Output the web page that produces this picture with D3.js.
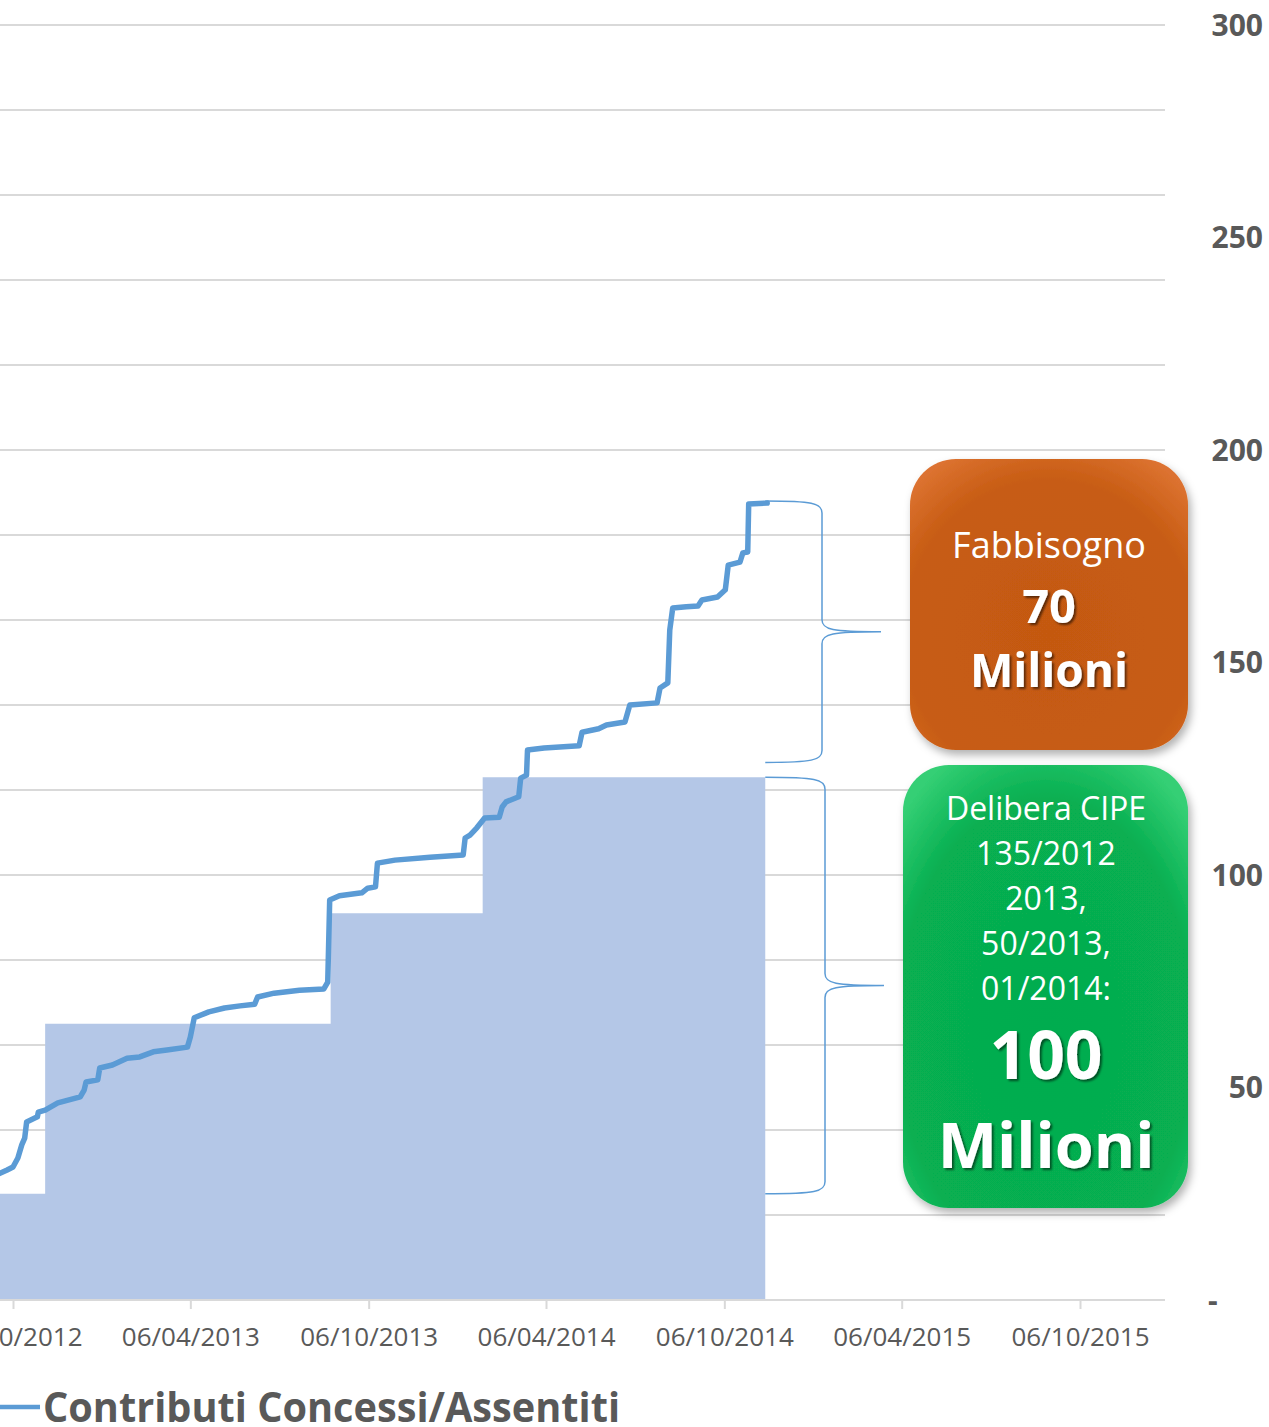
<!DOCTYPE html>
<html>
<head>
<meta charset="utf-8">
<script src="https://cdn.jsdelivr.net/npm/d3@7"></script>
<style>
  body { margin: 0; background: #fff; }
  svg { display: block; font-family: "Open Sans", sans-serif; }
</style>
</head>
<body>
<div id="chart"></div>
<script>
var svgWidth = 1269;
var svgHeight = 1427;

// cumulative line: Contributi Concessi/Assentiti (milioni)
var lineDates = ["2012-09-12","2012-09-30","2012-10-06","2012-10-11","2012-10-15","2012-10-18","2012-10-20",
  "2012-10-31","2012-11-01","2012-11-08","2012-11-21","2012-12-14","2012-12-18","2012-12-20","2013-01-01",
  "2013-01-03","2013-01-16","2013-01-31","2013-02-13","2013-02-27","2013-03-13","2013-04-03","2013-04-06",
  "2013-04-10","2013-04-25","2013-05-11","2013-05-27","2013-06-11","2013-06-14","2013-07-01","2013-07-27",
  "2013-08-21","2013-08-25","2013-08-27","2013-09-06","2013-09-29","2013-10-05","2013-10-13","2013-10-15",
  "2013-11-02","2013-12-08","2014-01-11","2014-01-13","2014-01-18","2014-01-25","2014-02-02","2014-02-17",
  "2014-02-20","2014-02-24","2014-03-09","2014-03-11","2014-03-17","2014-03-18","2014-04-04","2014-05-10",
  "2014-05-13","2014-05-30","2014-06-07","2014-06-26","2014-07-01","2014-07-29","2014-08-01","2014-08-09",
  "2014-08-11","2014-08-14","2014-08-28","2014-09-09","2014-09-13","2014-09-29","2014-10-07","2014-10-10",
  "2014-10-22","2014-10-25","2014-10-30","2014-10-31","2014-11-19"];
var lineValues = [28.7,30.6,31.3,33.4,36.5,38.1,41.9,
  43.1,44.2,44.7,46.4,47.8,49.4,51.3,51.8,
  54.6,55.3,56.9,57.2,58.4,58.8,59.5,61.9,
  66.4,67.8,68.7,69.2,69.6,71.3,72.2,72.9,
  73.2,74.8,94.1,95.1,95.8,96.9,97.2,102.8,
  103.5,104.2,104.7,108.7,109.4,111.1,113.4,113.6,
  116.0,117.2,118.4,122.8,123.5,129.4,129.9,130.4,
  133.6,134.4,135.3,136.0,140.0,140.5,144.0,145.2,
  157.6,162.8,163.1,163.3,164.7,165.4,167.1,172.9,
  173.6,175.8,176.0,187.3,187.5];

// stepped area: risorse assegnate (milioni)
var stepStarts = ["2012-08-01","2012-11-08","2013-08-28","2014-01-31","2014-11-17"];
var stepValues = [25, 65, 91, 123, 123];

var xTickDates = ["2012-10-06","2013-04-06","2013-10-06","2014-04-06","2014-10-06","2015-04-06","2015-10-06"];
var yTickValues = [0, 50, 100, 150, 200, 250, 300];
var gridValues = d3.range(0, 301, 20);

var parse = d3.timeParse("%Y-%m-%d");
var fmt = d3.timeFormat("%d/%m/%Y");

var svg = d3.select("#chart").append("svg")
    .attr("width", svgWidth)
    .attr("height", svgHeight);

var defs = svg.append("defs");
defs.append("clipPath").attr("id", "plotClip")
  .append("rect").attr("x", 0).attr("y", 0).attr("width", 1165).attr("height", 1300);

var shadow = defs.append("filter").attr("id", "shadow")
    .attr("x", "-20%").attr("y", "-20%").attr("width", "140%").attr("height", "140%");
shadow.append("feDropShadow").attr("dx", 3).attr("dy", 5).attr("stdDeviation", 4)
    .attr("flood-color", "#000").attr("flood-opacity", 0.3);

var txtShadow = defs.append("filter").attr("id", "txtShadow");
txtShadow.append("feDropShadow").attr("dx", 2).attr("dy", 2).attr("stdDeviation", 1.2)
    .attr("flood-color", "#000").attr("flood-opacity", 0.55);

var gOrange = defs.append("radialGradient").attr("id", "gOrange")
    .attr("cx", "50%").attr("cy", "60%").attr("r", "70%");
gOrange.append("stop").attr("offset", "0%").attr("stop-color", "#c45911");
gOrange.append("stop").attr("offset", "75%").attr("stop-color", "#c75c13");
gOrange.append("stop").attr("offset", "100%").attr("stop-color", "#dc7230");

var gGreen = defs.append("radialGradient").attr("id", "gGreen")
    .attr("cx", "50%").attr("cy", "60%").attr("r", "70%");
gGreen.append("stop").attr("offset", "0%").attr("stop-color", "#05ac4f");
gGreen.append("stop").attr("offset", "75%").attr("stop-color", "#07af51");
gGreen.append("stop").attr("offset", "100%").attr("stop-color", "#34cf74");

// scales
var xScale = d3.scaleTime()
    .domain([parse("2012-10-06"), parse("2015-10-06")])
    .range([13, 1080]);
var yScale = d3.scaleLinear()
    .domain([0, 300])
    .range([1300, 25]);

// gridlines
svg.append("g").selectAll("line")
  .data(gridValues)
  .enter()
  .append("line")
  .attr("x1", 0)
  .attr("x2", 1165)
  .attr("y1", d => yScale(d))
  .attr("y2", d => yScale(d))
  .attr("stroke", "#d9d9d9")
  .attr("stroke-width", 2);

// stepped area
var plot = svg.append("g").attr("clip-path", "url(#plotClip)");
var stepData = stepStarts.map((d, i) => ({ date: parse(d), value: stepValues[i] }));
var area = d3.area()
    .curve(d3.curveStepAfter)
    .x(d => xScale(d.date))
    .y0(yScale(0))
    .y1(d => yScale(d.value));
plot.append("path")
    .datum(stepData)
    .attr("d", area)
    .attr("fill", "#b4c7e7");

// x axis
var bottomAxis = d3.axisBottom(xScale)
    .tickValues(xTickDates.map(parse))
    .tickFormat(fmt)
    .tickSizeInner(9)
    .tickSizeOuter(0)
    .tickPadding(19);
var xAxis = svg.append("g")
    .attr("transform", "translate(0, 1300)")
    .call(bottomAxis);
xAxis.select(".domain").attr("d", "M0,0H1165").attr("stroke", "#d9d9d9").attr("stroke-width", 2);
xAxis.selectAll(".tick line").attr("stroke", "#d9d9d9").attr("stroke-width", 2);
xAxis.selectAll(".tick text")
    .attr("font-family", "Open Sans, sans-serif")
    .attr("font-size", "26px")
    .attr("fill", "#595959");

// y axis labels on the right
svg.append("g").selectAll("text")
  .data(yTickValues)
  .enter()
  .append("text")
  .attr("x", 1263)
  .attr("y", d => yScale(d))
  .attr("dy", "0.36em")
  .attr("text-anchor", d => d === 0 ? "start" : "end")
  .attr("dx", d => d === 0 ? -55 : 0)
  .attr("font-size", "30px")
  .attr("font-weight", "bold")
  .attr("fill", "#595959")
  .text(d => d === 0 ? "-" : d);

// cumulative line
var lineData = lineDates.map((d, i) => ({ date: parse(d), value: lineValues[i] }));
var line = d3.line()
    .x(d => xScale(d.date))
    .y(d => yScale(d.value));
plot.append("path")
    .datum(lineData)
    .attr("d", line)
    .attr("fill", "none")
    .attr("stroke", "#5b9bd5")
    .attr("stroke-width", 5.5)
    .attr("stroke-linejoin", "round")
    .attr("stroke-linecap", "round");

// curly braces
function brace(x0, x1, xt, yTop, yBot) {
    var ym = (yTop + yBot) / 2;
    var p = d3.path();
    p.moveTo(x0, yTop);
    p.bezierCurveTo(x1 - 10, yTop, x1, yTop + 2, x1, yTop + 12);
    p.lineTo(x1, ym - 12);
    p.bezierCurveTo(x1, ym - 2, x1 + 10, ym, xt, ym);
    p.bezierCurveTo(x1 + 10, ym, x1, ym + 2, x1, ym + 12);
    p.lineTo(x1, yBot - 12);
    p.bezierCurveTo(x1, yBot - 2, x1 - 10, yBot, x0, yBot);
    return p.toString();
}
var braceX0 = xScale(parse(stepStarts[stepStarts.length - 1]));
svg.append("path")
    .attr("d", brace(braceX0, 822, 881, yScale(188), yScale(126.5)))
    .attr("fill", "none").attr("stroke", "#5b9bd5").attr("stroke-width", 1.5);
svg.append("path")
    .attr("d", brace(braceX0, 825, 884, yScale(stepValues[3]), yScale(stepValues[0])))
    .attr("fill", "none").attr("stroke", "#5b9bd5").attr("stroke-width", 1.5);

// orange box
svg.append("rect")
    .attr("x", 910).attr("y", 459).attr("width", 278).attr("height", 291)
    .attr("rx", 46).attr("ry", 46)
    .attr("fill", "url(#gOrange)")
    .attr("filter", "url(#shadow)");
var orangeText = svg.append("g").attr("fill", "#fff").attr("text-anchor", "middle");
orangeText.append("text").attr("x", 1049).attr("y", 558)
    .attr("font-size", "36px").text("Fabbisogno");
orangeText.append("text").attr("x", 1049).attr("y", 623)
    .attr("font-size", "47px").attr("font-weight", "bold").attr("filter", "url(#txtShadow)").text("70");
orangeText.append("text").attr("x", 1049).attr("y", 687)
    .attr("font-size", "46px").attr("font-weight", "bold").attr("filter", "url(#txtShadow)").text("Milioni");

// green box
svg.append("rect")
    .attr("x", 903).attr("y", 765).attr("width", 285).attr("height", 443)
    .attr("rx", 46).attr("ry", 46)
    .attr("fill", "url(#gGreen)")
    .attr("filter", "url(#shadow)");
var greenLines = ["Delibera CIPE", "135/2012", "2013,", "50/2013,", "01/2014:"];
var greenText = svg.append("g").attr("fill", "#fff").attr("text-anchor", "middle");
greenText.selectAll("text.small")
  .data(greenLines)
  .enter()
  .append("text")
  .attr("class", "small")
  .attr("x", 1046)
  .attr("y", (d, i) => 820 + i * 45)
  .attr("font-size", "32px")
  .text(d => d);
greenText.append("text").attr("x", 1046).attr("y", 1079)
    .attr("font-size", "66px").attr("font-weight", "bold").attr("filter", "url(#txtShadow)").text("100");
greenText.append("text").attr("x", 1046).attr("y", 1168)
    .attr("font-size", "63px").attr("font-weight", "bold").attr("filter", "url(#txtShadow)").text("Milioni");

// legend
svg.append("line")
    .attr("x1", 0).attr("x2", 40).attr("y1", 1407).attr("y2", 1407)
    .attr("stroke", "#5b9bd5").attr("stroke-width", 4.5);
svg.append("text")
    .attr("x", 43).attr("y", 1422)
    .attr("font-size", "41px")
    .attr("font-weight", "bold")
    .attr("fill", "#595959")
    .attr("textLength", 577)
    .attr("lengthAdjust", "spacingAndGlyphs")
    .text("Contributi Concessi/Assentiti");
</script>
</body>
</html>
